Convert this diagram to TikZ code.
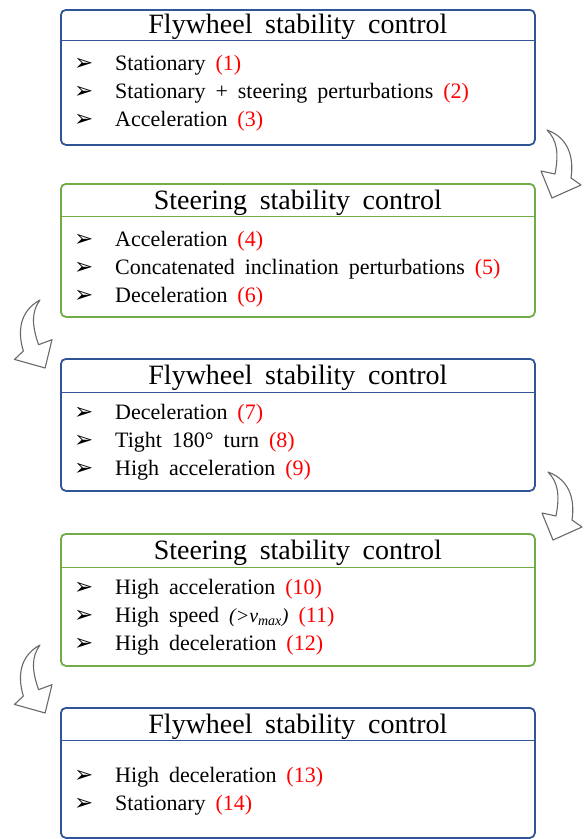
\documentclass[tikz,border=0pt]{standalone}
\usepackage{fontspec}
\setmainfont[WordSpace=1.8]{Liberation Serif}
\newfontfamily\symfont{DejaVu Sans}
\definecolor{flyblue}{RGB}{47,85,151}
\definecolor{steergreen}{RGB}{112,173,71}
\definecolor{numred}{RGB}{255,0,0}
\definecolor{turngray}{RGB}{105,105,105}
\newcommand{\bul}{\makebox[41pt][l]{\symfont\fontsize{23}{23}\selectfont ➢}}
\newcommand{\nr}[1]{\textcolor{numred}{(#1)}}
\tikzset{
  stage/.style={draw=#1, rounded corners=5pt, line width=1.8pt, minimum width=474pt,
    anchor=north west, inner sep=0pt},
  divider/.style={draw=#1, line width=0.9pt},
  head/.style={font=\fontsize{28}{28}\selectfont, inner sep=0pt},
  item/.style={font=\fontsize{22}{22}\selectfont, inner sep=0pt, anchor=west},
  turn/.style={draw=turngray, fill=white, line width=1.1pt, line join=round},
  turnarrow/.pic={
    \draw[turn] (0,0) .. controls (22,8) and (27,28) .. (24,48) -- (34,55) -- (5,68)
      -- (-6,41) -- (8,44) .. controls (12,23) and (10,10) .. cycle;
  }
}
\begin{document}
\begin{tikzpicture}[x=1pt, y=-1pt]
\useasboundingbox (0,0) rectangle (586,839);
% stage 1
\node[stage=flyblue, minimum height=135pt] (s1) at (60,9) {};
\draw[divider=flyblue] ([yshift=-31pt]s1.north west) -- ([yshift=-31pt]s1.north east);
\node[head] (h1) at ([yshift=-18pt]s1.north) {Flywheel stability control};
\foreach \txt [count=\k] in {Stationary \nr{1}, Stationary + steering perturbations \nr{2}, Acceleration \nr{3}}
  \node[item] (s1-\k) at ([xshift=14pt, yshift={-28pt-28pt*\k}]s1.north west) {\bul\txt};
% stage 2
\node[stage=steergreen, minimum height=133pt] (s2) at (60,183) {};
\draw[divider=steergreen] ([yshift=-33pt]s2.north west) -- ([yshift=-33pt]s2.north east);
\node[head] (h2) at ([yshift=-19.5pt]s2.north) {Steering stability control};
\foreach \txt [count=\k] in {Acceleration \nr{4}, Concatenated inclination perturbations \nr{5}, Deceleration \nr{6}}
  \node[item] (s2-\k) at ([xshift=14pt, yshift={-30pt-28pt*\k}]s2.north west) {\bul\txt};
% stage 3
\node[stage=flyblue, minimum height=132pt] (s3) at (60,358) {};
\draw[divider=flyblue] ([yshift=-34pt]s3.north west) -- ([yshift=-34pt]s3.north east);
\node[head] (h3) at ([yshift=-19.5pt]s3.north) {Flywheel stability control};
\foreach \txt [count=\k] in {Deceleration \nr{7}, Tight 180° turn \nr{8}, High acceleration \nr{9}}
  \node[item] (s3-\k) at ([xshift=14pt, yshift={-28pt-28pt*\k}]s3.north west) {\bul\txt};
% stage 4
\node[stage=steergreen, minimum height=132pt] (s4) at (60,533) {};
\draw[divider=steergreen] ([yshift=-34pt]s4.north west) -- ([yshift=-34pt]s4.north east);
\node[head] (h4) at ([yshift=-19.5pt]s4.north) {Steering stability control};
\foreach \txt [count=\k] in {High acceleration \nr{10}, High speed {\itshape\fontsize{20}{20}\selectfont (>v\textsubscript{max})} \nr{11}, High deceleration \nr{12}}
  \node[item] (s4-\k) at ([xshift=14pt, yshift={-28pt-28pt*\k}]s4.north west) {\bul\txt};
% stage 5
\node[stage=flyblue, minimum height=130pt] (s5) at (60,707) {};
\draw[divider=flyblue] ([yshift=-33pt]s5.north west) -- ([yshift=-33pt]s5.north east);
\node[head] (h5) at ([yshift=-19.5pt]s5.north) {Flywheel stability control};
\foreach \txt [count=\k] in {High deceleration \nr{13}, Stationary \nr{14}}
  \node[item] (s5-\k) at ([xshift=14pt, yshift={-42pt-28pt*\k}]s5.north west) {\bul\txt};
% curved arrows between stages
\pic at (547,130) {turnarrow};
\pic[rotate=8.5, xscale=-1] at (40,300) {turnarrow};
\pic at (548,472) {turnarrow};
\pic[rotate=8.5, xscale=-1] at (40,645) {turnarrow};
\end{tikzpicture}
\end{document}
